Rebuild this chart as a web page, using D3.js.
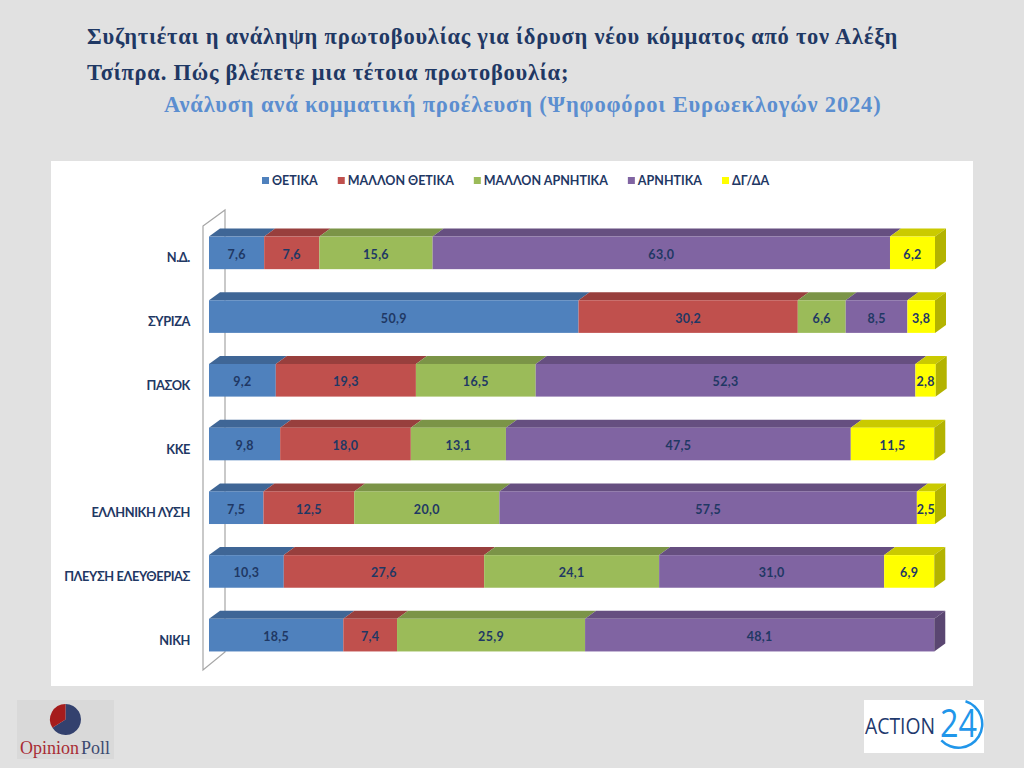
<!DOCTYPE html>
<html>
<head>
<meta charset="utf-8">
<script src="https://cdn.jsdelivr.net/npm/d3@7"></script>
<style>
  html, body { margin: 0; padding: 0; background: #e1e1e1; }
  svg { display: block; }
</style>
</head>
<body>
<div id="chart"></div>
<script>
// values
var parties = ["Ν.Δ.", "ΣΥΡΙΖΑ", "ΠΑΣΟΚ", "ΚΚΕ", "ΕΛΛΗΝΙΚΗ ΛΥΣΗ", "ΠΛΕΥΣΗ ΕΛΕΥΘΕΡΙΑΣ", "ΝΙΚΗ"];
var answers = ["ΘΕΤΙΚΑ", "ΜΑΛΛΟΝ ΘΕΤΙΚΑ", "ΜΑΛΛΟΝ ΑΡΝΗΤΙΚΑ", "ΑΡΝΗΤΙΚΑ", "ΔΓ/ΔΑ"];
var colors = ["#4f81bd", "#c0504d", "#9bbb59", "#8064a2", "#ffff00"];

var positive = [7.6, 50.9, 9.2, 9.8, 7.5, 10.3, 18.5];
var ratherPositive = [7.6, 30.2, 19.3, 18.0, 12.5, 27.6, 7.4];
var ratherNegative = [15.6, 6.6, 16.5, 13.1, 20.0, 24.1, 25.9];
var negative = [63.0, 8.5, 52.3, 47.5, 57.5, 31.0, 48.1];
var noAnswer = [6.2, 3.8, 2.8, 11.5, 2.5, 6.9, 0];
var series = [positive, ratherPositive, ratherNegative, negative, noAnswer];

var titleLines = [
  "Συζητιέται η ανάληψη πρωτοβουλίας για ίδρυση νέου κόμματος από τον Αλέξη",
  "Τσίπρα. Πώς βλέπετε μια τέτοια πρωτοβουλία;"
];
var subtitle = "Ανάλυση ανά κομματική προέλευση (Ψηφοφόροι Ευρωεκλογών 2024)";

var svg = d3.select("#chart").append("svg").attr("width", 1024).attr("height", 768);
svg.append("rect").attr("width", 1024).attr("height", 768).attr("fill", "#e1e1e1");

// title
svg.selectAll(".title").data(titleLines).enter().append("text")
  .attr("x", 87)
  .attr("y", function(d, i) { return 44 + i * 36; })
  .attr("font-family", "Liberation Serif")
  .attr("font-weight", "bold")
  .attr("font-size", 22.5)
  .attr("letter-spacing", 0.76)
  .attr("fill", "#1f3864")
  .text(function(d) { return d; });

svg.append("text")
  .attr("x", 164).attr("y", 112)
  .attr("font-family", "Liberation Serif")
  .attr("font-weight", "bold")
  .attr("font-size", 22.5)
  .attr("letter-spacing", 0.83)
  .attr("fill", "#5b8ed0")
  .text(subtitle);

// white panel
svg.append("rect").attr("x", 51).attr("y", 161).attr("width", 922).attr("height", 525).attr("fill", "#fff");

var labelFont = "Lato";
var depthX = 11, depthY = 8;

var x = d3.scaleLinear().domain([0, 100]).range([209, 935]);
var y = d3.scaleBand().domain(parties).range([221, 667]).paddingInner(0.488).paddingOuter(0.244);

// back wall of the 3d plot
var wallTop = y.range()[0] - 11, wallBottom = y.range()[1] - 15;
svg.append("path")
  .attr("d", d3.line()([
    [x(0) - 6, wallTop + 16], [x(0) + 16, wallTop], [x(0) + 16, wallBottom],
    [x(0) - 6, wallBottom + 18]
  ]) + "Z")
  .attr("fill", "none")
  .attr("stroke", "#a6a6a6")
  .attr("stroke-width", 1.2);

// legend, flowed from the text widths
var legend = svg.append("g");
var legendX = 262;
answers.forEach(function(a, i) {
  legend.append("rect")
    .attr("x", legendX).attr("y", 177).attr("width", 7).attr("height", 7)
    .attr("fill", colors[i]);
  var t = legend.append("text")
    .attr("x", legendX + 10).attr("y", 185)
    .attr("font-family", labelFont)
    .attr("font-weight", "bold")
    .attr("font-size", 12.5)
    .attr("fill", "#1f3864")
    .text(a);
  legendX += 10 + t.node().getComputedTextLength() + 20;
});

// party labels
svg.selectAll(".party").data(parties).enter().append("text")
  .attr("x", 190)
  .attr("y", function(d) { return y(d) + y.bandwidth() / 2 + 9.5; })
  .attr("text-anchor", "end")
  .attr("font-family", labelFont)
  .attr("font-weight", "bold")
  .attr("font-size", 12.8)
  .attr("letter-spacing", -0.4)
  .attr("fill", "#1f3864")
  .text(function(d) { return d; });

// bars
parties.forEach(function(p, row) {
  var g = svg.append("g");
  var top = y(p), h = y.bandwidth();
  var sum = 0, last = null;
  series.forEach(function(s, k) {
    var v = s[row];
    if (!v) return;
    var x0 = x(sum), x1 = x(sum + v);
    sum += v;
    last = { x1: x1, k: k };
    g.append("path")
      .attr("d", d3.line()([[x0, top], [x1, top], [x1 + depthX, top - depthY], [x0 + depthX, top - depthY]]) + "Z")
      .attr("fill", d3.color(colors[k]).darker(0.65));
  });
  sum = 0;
  series.forEach(function(s, k) {
    var v = s[row];
    if (!v) return;
    var x0 = x(sum), x1 = x(sum + v);
    sum += v;
    g.append("rect")
      .attr("x", x0).attr("y", top)
      .attr("width", x1 - x0).attr("height", h)
      .attr("fill", colors[k]);
    g.append("text")
      .attr("x", (x0 + x1) / 2)
      .attr("y", top + h / 2 + 6)
      .attr("text-anchor", "middle")
      .attr("font-family", labelFont)
      .attr("font-weight", "bold")
      .attr("font-size", 12.5)
      .attr("letter-spacing", 0.3)
      .attr("fill", "#1f3864")
      .text(d3.format(".1f")(v).replace(".", ","));
  });
  // right side of the last segment
  g.append("path")
    .attr("d", d3.line()([
      [last.x1, top], [last.x1 + depthX, top - depthY],
      [last.x1 + depthX, top + h - depthY], [last.x1, top + h]
    ]) + "Z")
    .attr("fill", d3.color(colors[last.k]).darker(1));
});

// OpinionPoll logo
var op = svg.append("g");
op.append("rect").attr("x", 17).attr("y", 700).attr("width", 97).attr("height", 59).attr("fill", "#d9d9d9");
var pieData = d3.pie().sort(null).startAngle(0)([66, 34]);
var arc = d3.arc().innerRadius(0).outerRadius(15.5);
op.selectAll("path").data(pieData).enter().append("path")
  .attr("transform", "translate(65.5,719.5)")
  .attr("d", arc)
  .attr("fill", function(d, i) { return i == 0 ? "#33416e" : "#a51c1c"; });
op.append("text")
  .attr("x", 20).attr("y", 754)
  .attr("font-family", "Liberation Serif")
  .attr("font-size", 18)
  .attr("fill", "#a82c34")
  .text("Opinion");
op.append("text")
  .attr("x", 81).attr("y", 754)
  .attr("font-family", "Liberation Serif")
  .attr("font-size", 18)
  .attr("fill", "#3d4a70")
  .text("Poll");

// Action 24 logo
var ac = svg.append("g");
ac.append("rect").attr("x", 864).attr("y", 700).attr("width", 120).attr("height", 53).attr("fill", "#fff");
ac.append("text")
  .attr("x", 865).attr("y", 734)
  .attr("font-family", "Open Sans")
  .attr("font-weight", 500)
  .attr("font-size", 21)
  .attr("textLength", 70)
  .attr("lengthAdjust", "spacingAndGlyphs")
  .attr("fill", "#1f3a6e")
  .text("ACTION");
ac.append("text")
  .attr("x", 940).attr("y", 737)
  .attr("font-family", "Open Sans")
  .attr("font-size", 38)
  .attr("textLength", 37)
  .attr("lengthAdjust", "spacingAndGlyphs")
  .attr("fill", "#2196ea")
  .text("24");
ac.append("path")
  .attr("transform", "translate(958.5,724)")
  .attr("d", d3.arc().innerRadius(22.5).outerRadius(25).startAngle(0.3).endAngle(3.95)())
  .attr("fill", "#2196ea");
</script>
</body>
</html>
